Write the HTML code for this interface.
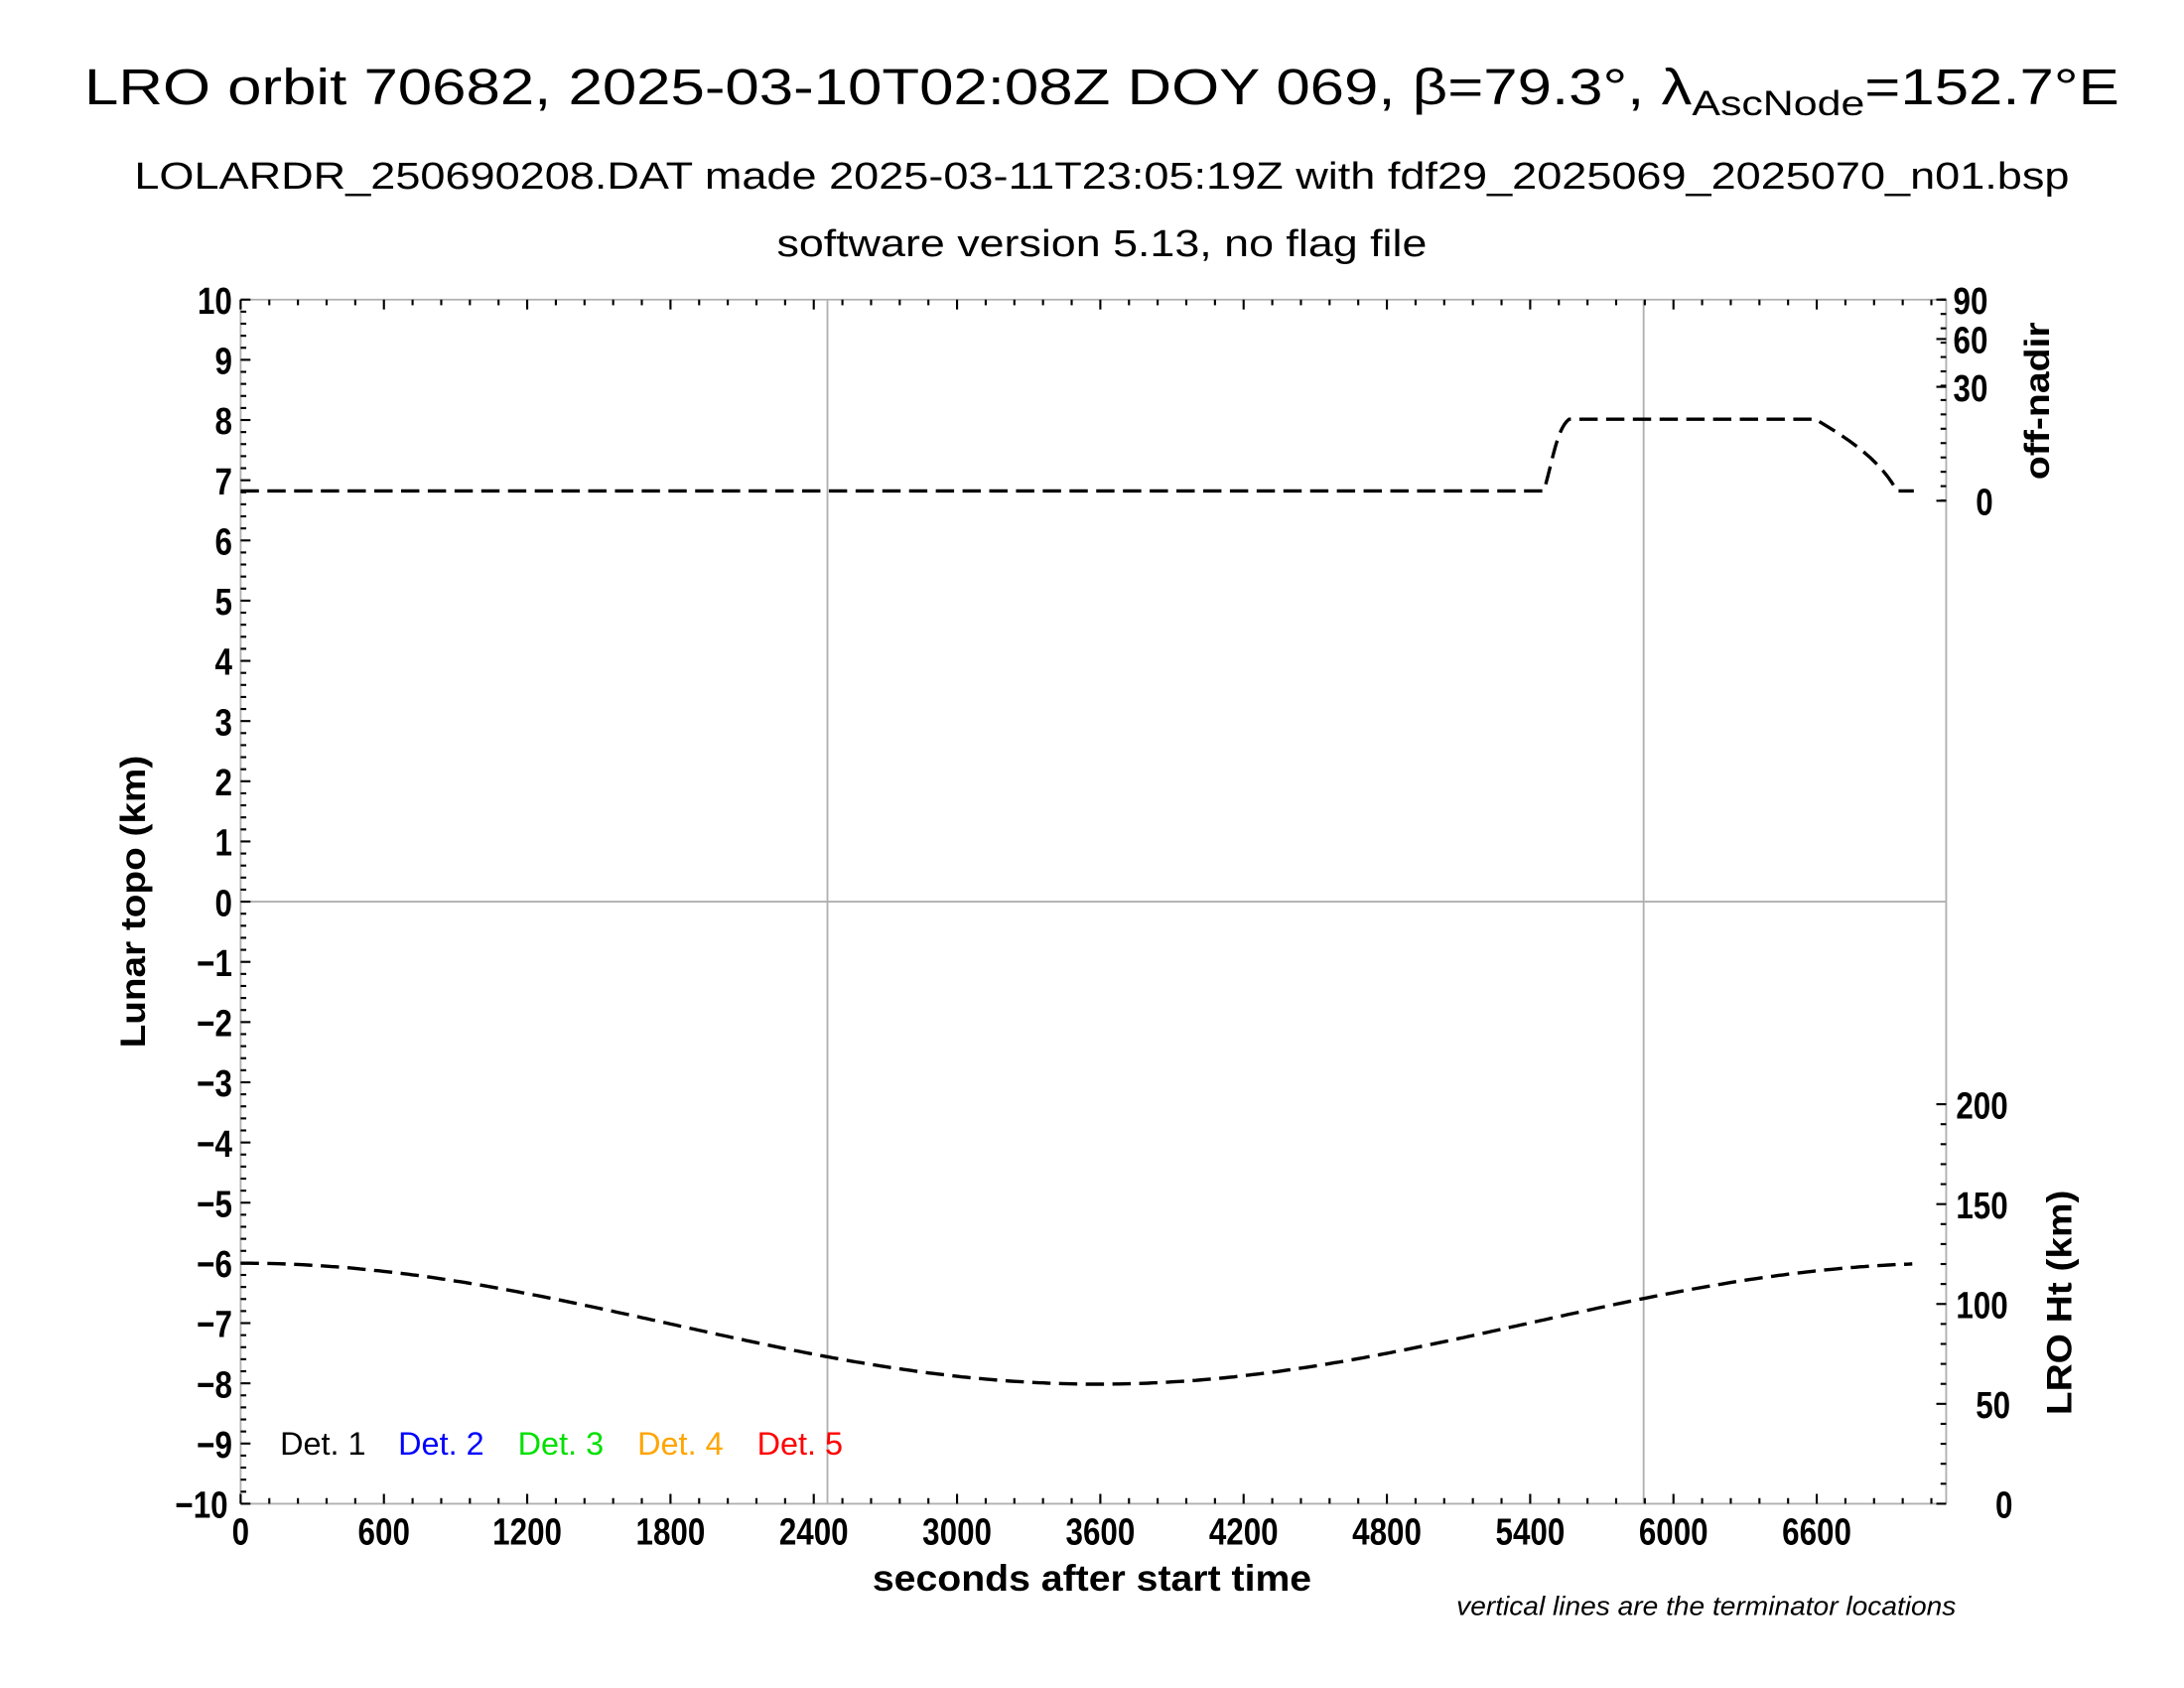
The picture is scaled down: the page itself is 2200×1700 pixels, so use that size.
<!DOCTYPE html>
<html><head><meta charset="utf-8"><style>
html,body{margin:0;padding:0;background:#fff;}
svg{display:block;}
text{font-family:"Liberation Sans",sans-serif;}
</style></head><body>
<svg id="s" width="2200" height="1700" viewBox="0 0 1552 1200" preserveAspectRatio="none" xmlns="http://www.w3.org/2000/svg">
<rect width="1552" height="1200" fill="#fff"/>
<text x="783" y="74" font-size="36" text-anchor="middle" textLength="1446" lengthAdjust="spacingAndGlyphs">LRO orbit 70682, 2025-03-10T02:08Z DOY 069, β=79.3°, λ<tspan font-size="25" dy="8">AscNode</tspan><tspan dy="-8">=152.7°E</tspan></text>
<text x="783" y="134" font-size="27" text-anchor="middle" textLength="1375" lengthAdjust="spacingAndGlyphs">LOLARDR_250690208.DAT made 2025-03-11T23:05:19Z with fdf29_2025069_2025070_n01.bsp</text>
<text x="783" y="182" font-size="27" text-anchor="middle" textLength="462" lengthAdjust="spacingAndGlyphs">software version 5.13, no flag file</text>
<g id="grid" stroke="#b0b0b0" stroke-width="1.3">
<line x1="171" y1="641" x2="1383" y2="641"/>
<line x1="588" y1="213" x2="588" y2="1069"/>
<line x1="1168" y1="213" x2="1168" y2="1069"/>
<line x1="1383" y1="213" x2="1383" y2="1069"/>
<line x1="171" y1="213" x2="1383" y2="213"/>
<line x1="171" y1="213" x2="171" y2="1069"/>
<line x1="171" y1="1069" x2="1383" y2="1069"/>
</g>
<g id="ticks" stroke="#000" stroke-width="1.5"></g>
<g id="labels" font-size="27" font-weight="bold"></g>
<path d="M171,349 L1097,349 C1103,330 1106,305 1115,298 L1290,298 C1310,310 1335,325 1348,349 L1360,349" fill="none" stroke="#000" stroke-width="2.4" stroke-dasharray="13,6"/>
<path id="ht" fill="none" stroke="#000" stroke-width="2.4" stroke-dasharray="13,6"/>
<g font-size="23">
<text x="199" y="1034" fill="#000" textLength="61" lengthAdjust="spacingAndGlyphs">Det. 1</text>
<text x="283" y="1034" fill="#0000ff" textLength="61" lengthAdjust="spacingAndGlyphs">Det. 2</text>
<text x="368" y="1034" fill="#00e000" textLength="61" lengthAdjust="spacingAndGlyphs">Det. 3</text>
<text x="453" y="1034" fill="#ffa500" textLength="61" lengthAdjust="spacingAndGlyphs">Det. 4</text>
<text x="538" y="1034" fill="#ff0000" textLength="61" lengthAdjust="spacingAndGlyphs">Det. 5</text>
</g>
<text x="776" y="1131" font-size="26" font-weight="bold" text-anchor="middle" textLength="312" lengthAdjust="spacingAndGlyphs">seconds after start time</text>
<text x="1390" y="1148" font-size="19" font-style="italic" text-anchor="end" textLength="355" lengthAdjust="spacingAndGlyphs">vertical lines are the terminator locations</text>
<text transform="translate(103,641) rotate(-90)" font-size="25" font-weight="bold" text-anchor="middle" textLength="208" lengthAdjust="spacingAndGlyphs">Lunar topo (km)</text>
<text transform="translate(1456,285) rotate(-90)" font-size="25" font-weight="bold" text-anchor="middle" textLength="112" lengthAdjust="spacingAndGlyphs">off-nadir</text>
<text transform="translate(1472,926) rotate(-90)" font-size="25" font-weight="bold" text-anchor="middle" textLength="160" lengthAdjust="spacingAndGlyphs">LRO Ht (km)</text>
</svg>
<script>
var NS="http://www.w3.org/2000/svg";
function el(p,n,a,t){var e=document.createElementNS(NS,n);for(var k in a)e.setAttribute(k,a[k]);if(t!=null)e.textContent=t;document.getElementById(p).appendChild(e);}
function lab(x,y,anchor,s){el("labels","text",{transform:"translate("+x+","+y+") scale(0.82,1)","text-anchor":anchor},s);}
var X0=171,XS=0.16970,Y0=641,YS=42.8;
for(var i=-50;i<=50;i++){var y=Y0-i*0.2*YS;var L=(i%5==0)?7:4;el("ticks","line",{x1:171,y1:y,x2:171+L,y2:y});}
for(var k=-10;k<=10;k++){var y=Y0-k*YS;lab(k==-10?162:165,y+10,"end",(k<0?"\u2212":"")+Math.abs(k));}
for(var t=0;t<=7140;t+=120){var x=X0+t*XS;var L=(t%600==0)?7:4;el("ticks","line",{x1:x,y1:1069,x2:x,y2:1069-L});el("ticks","line",{x1:x,y1:213,x2:x,y2:213+L});}
for(var t=0;t<=6600;t+=600){lab(X0+t*XS,1098,"middle",""+t);}
[[90,213],[60,241],[30,275],[0,356]].forEach(function(a){el("ticks","line",{x1:1383,y1:a[1],x2:1376,y2:a[1]});lab(a[0]==0?1404:1388,a[1]+10,"start",""+a[0]);});
for(var y=213;y<=356;y+=10.2){el("ticks","line",{x1:1383,y1:y,x2:1379,y2:y});}
for(var v=0;v<=200;v+=10){var y=1069-v*1.42;var L=(v%50==0)?7:4;el("ticks","line",{x1:1383,y1:y,x2:1383-L,y2:y});}
[0,50,100,150,200].forEach(function(v){var y=1069-v*1.42;lab(1390+(v==0?28:v==50?14:0),y+10,"start",""+v);});
var d="";for(var t=0;t<=7006;t+=20){var x=X0+t*XS;var y=941-43*Math.cos(2*Math.PI*t/7180);d+=(t==0?"M":"L")+x.toFixed(1)+","+y.toFixed(1);}
document.getElementById("ht").setAttribute("d",d);
</script>
</body></html>
